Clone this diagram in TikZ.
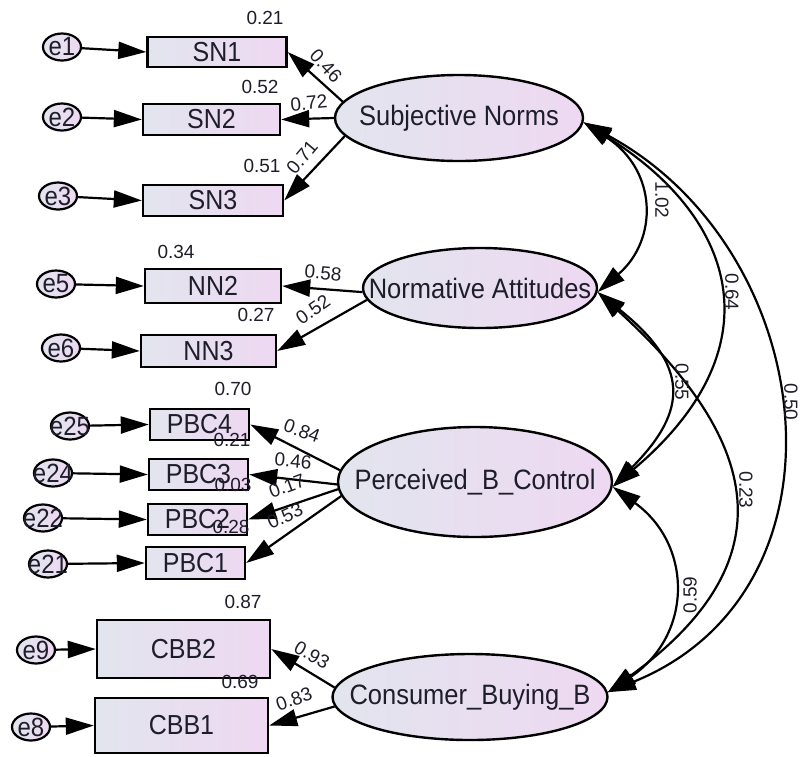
\documentclass[tikz,border=0pt]{standalone}
\usepackage{fontspec}
\setmainfont{Liberation Sans}
\usetikzlibrary{arrows.meta,shapes.geometric}
\definecolor{lft}{HTML}{E2E5EE}
\definecolor{rgt}{HTML}{EED8F2}
\definecolor{txt}{HTML}{1E1E2A}
\newcommand{\zt}[1]{\makebox[0pt][c]{\scalebox{1}[1.1]{#1}}}
\begin{document}
\begin{tikzpicture}[x=1pt,y=-1pt,
  bigtri/.tip={Triangle[length=28pt,width=17pt]},
  ind/.style={draw=black, line width=2.4pt, left color=lft, right color=rgt, inner sep=0pt, font=\fontsize{25}{25}\selectfont, text=txt},
  lat/.style={ellipse, draw=black, line width=2.4pt, left color=lft, right color=rgt, inner sep=0pt, font=\fontsize{25.5}{25}\selectfont, text=txt},
  err/.style={ellipse, draw=black, line width=2.2pt, left color=lft, right color=rgt, minimum width=38pt, minimum height=27pt, inner sep=0pt, font=\fontsize{24}{24}\selectfont, text=txt},
  lbl/.style={font=\fontsize{19}{19}\selectfont, text=txt, inner sep=0pt},
  arr/.style={line width=2.2pt, -{bigtri}},
  cov/.style={line width=2.2pt, {bigtri}-{bigtri}},
]
\useasboundingbox (0,0) rectangle (800,756);

% latent variables
\node[lat, minimum width=248pt, minimum height=86pt] (sn) at (459,118) {\zt{Subjective Norms}};
\node[lat, minimum width=234pt, minimum height=80pt] (na) at (480,288) {\zt{Normative Attitudes}};
\node[lat, minimum width=274pt, minimum height=110pt] (pbc) at (475,482) {\zt{Perceived\_B\_Control}};
\node[lat, minimum width=275pt, minimum height=86pt] (cbb) at (470,697) {\zt{Consumer\_Buying\_B}};

% indicators
\node[ind, minimum width=139pt, minimum height=30pt] (sn1) at (217,52) {\zt{SN1}};
\node[ind, minimum width=137pt, minimum height=31pt] (sn2) at (211.5,119.5) {\zt{SN2}};
\node[ind, minimum width=140pt, minimum height=31pt] (sn3) at (213,200.5) {\zt{SN3}};
\node[ind, minimum width=136pt, minimum height=34pt] (nn2) at (213,286) {\zt{NN2}};
\node[ind, minimum width=135pt, minimum height=32pt] (nn3) at (208.5,351) {\zt{NN3}};
\node[ind, minimum width=99pt, minimum height=31pt] (pbc4) at (199.5,424.5) {\zt{PBC4}};
\node[ind, minimum width=99pt, minimum height=31pt] (pbc3) at (198.5,474.5) {\zt{PBC3}};
\node[ind, minimum width=99pt, minimum height=31pt] (pbc2) at (197.5,519.5) {\zt{PBC2}};
\node[ind, minimum width=99pt, minimum height=32pt] (pbc1) at (195.5,563) {\zt{PBC1}};
\node[ind, minimum width=173pt, minimum height=58pt] (cbb2) at (183.5,649) {\zt{CBB2}};
\node[ind, minimum width=173pt, minimum height=55pt] (cbb1) at (181.5,725.5) {\zt{CBB1}};

% error terms
\node[err] (e1) at (62,47) {\zt{e1}};
\node[err] (e2) at (62,117) {\zt{e2}};
\node[err] (e3) at (58,196) {\zt{e3}};
\node[err] (e5) at (56,284) {\zt{e5}};
\node[err] (e6) at (61,348) {\zt{e6}};
\node[err] (e25) at (70,426) {\zt{e25}};
\node[err] (e24) at (53,473) {\zt{e24}};
\node[err] (e22) at (43,518) {\zt{e22}};
\node[err] (e21) at (48,564) {\zt{e21}};
\node[err] (e9) at (36,650) {\zt{e9}};
\node[err] (e8) at (31,727) {\zt{e8}};

% error arrows
\draw[arr] (e1) -- (sn1.west);
\draw[arr] (e2) -- (sn2.west);
\draw[arr] (e3) -- (sn3.west);
\draw[arr] (e5) -- (nn2.west);
\draw[arr] (e6) -- (nn3.west);
\draw[arr] (e25) -- (pbc4.west);
\draw[arr] (e24) -- (pbc3.west);
\draw[arr] (e22) -- (pbc2.west);
\draw[arr] (e21) -- (pbc1.west);
\draw[arr] (e9) -- (cbb2.west);
\draw[arr] (e8) -- (cbb1.west);

% loadings
\draw[arr] (sn.172) -- (sn1.east);
\draw[arr] (sn.180) -- (sn2.east);
\draw[arr] (sn.189) -- (sn3.east);
\draw[arr] (na.182) -- (nn2.east);
\draw[arr] (na.186) -- (nn3.east);
\draw[arr] (pbc.175) -- (pbc4.east);
\draw[arr] (pbc.181) -- (pbc3.east);
\draw[arr] (pbc.183.5) -- (pbc2.east);
\draw[arr] (pbc.186.5) -- (pbc1.east);
\draw[arr] (cbb.176) -- (cbb2.east);
\draw[arr] (cbb.184) -- (cbb1.east);

% covariances
\draw[cov] (sn.-2) .. controls (658,171) and (658,240) .. (na.-2);
\draw[cov] (sn.-2) .. controls (740,220) and (775,350) .. (pbc.-2);
\draw[cov] (sn.-2) .. controls (820,250) and (860,590) .. (cbb.2);
\draw[cov] (na.-2) .. controls (689,365) and (689,410) .. (pbc.-2);
\draw[cov] (na.-2) .. controls (760,440) and (790,560) .. (cbb.2);
\draw[cov] (pbc.-2) .. controls (693,545) and (693,635) .. (cbb.2);

% squared multiple correlations
\node[lbl] (r1) at (265,18) {0.21};
\node[lbl] (r2) at (260,87) {0.52};
\node[lbl] (r3) at (262,166) {0.51};
\node[lbl] (r5) at (176,252) {0.34};
\node[lbl] (r6) at (256,315) {0.27};
\node[lbl] (r25) at (233,389) {0.70};
\node[lbl] (r24) at (232,440) {0.21};
\node[lbl] (r22) at (233,485) {0.03};
\node[lbl] (r21) at (231,527) {0.28};
\node[lbl] (r9) at (243,602) {0.87};
\node[lbl] (r8) at (240,682) {0.69};

% loading labels
\node[lbl, rotate=-47] (l1) at (326,66) {0.46};
\node[lbl, rotate=5] (l2) at (309,103) {0.72};
\node[lbl, rotate=50] (l3) at (302,157) {0.71};
\node[lbl, rotate=-5] (l5) at (323,273) {0.58};
\node[lbl, rotate=35] (l6) at (313,310) {0.52};
\node[lbl, rotate=-20] (l25) at (302,431) {0.84};
\node[lbl, rotate=-5] (l24) at (293,461) {0.46};
\node[lbl, rotate=20] (l22) at (287,486) {0.17};
\node[lbl, rotate=25] (l21) at (285,516) {0.53};
\node[lbl, rotate=-30] (l9) at (312,655) {0.93};
\node[lbl, rotate=20] (l8) at (294,699) {0.83};

% covariance labels
\node[lbl, rotate=-90] (c1) at (662,200) {1.02};
\node[lbl, rotate=-90] (c2) at (732,292) {0.64};
\node[lbl, rotate=-90] (c3) at (791,402) {0.50};
\node[lbl, rotate=-90] (c4) at (682,382) {0.55};
\node[lbl, rotate=-90] (c5) at (746,490) {0.23};
\node[lbl, rotate=90] (c6) at (690,595) {0.59};
\end{tikzpicture}
\end{document}
